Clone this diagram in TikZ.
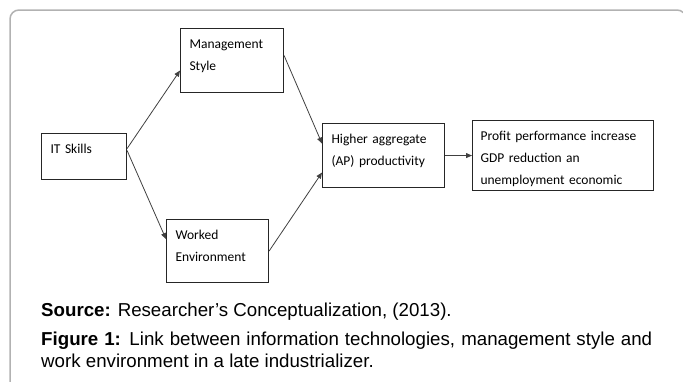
\documentclass[tikz,border=0pt]{standalone}
\usepackage{fontspec}
\setmainfont{Liberation Sans}
\newfontfamily\boxfont{Carlito}
\usepackage{tikz}
\usetikzlibrary{arrows.meta, positioning}

\begin{document}
\begin{tikzpicture}[x=1pt,y=-1pt,>={Triangle[length=6pt,width=5pt]}]
    \tikzstyle{box}=[draw=black!85,line width=1.1pt,anchor=north west,align=left,
        inner xsep=9pt,inner ysep=0pt,text height=19.5pt,
        font=\boxfont\fontsize{13.5}{22}\selectfont]
    \tikzstyle{link}=[every edge/.style={draw,->,black!75,line width=0.8pt}]
    \useasboundingbox (0,0) rectangle (683,381);

    % frame round the figure
    \draw[black!30,line width=1.5pt,rounded corners=9pt] (10,10) rectangle (686,400);

    \node[box,text width=67pt,text depth=26.5pt] (it) at (41,133) {IT Skills};
    \node[box,text width=85pt,text depth=44.5pt] (mgmt) at (180,28) {Management\\Style};
    \node[box,text width=84pt,text depth=43.5pt] (work) at (166,219) {Worked\\Environment};
    \node[box,text width=104pt,text depth=44.5pt] (high) at (322,123) {Higher aggregate\\(AP) productivity};
    \node[box,text depth=50.5pt,inner xsep=8pt,text width=165pt] (prof) at (472,120)
        {Profit performance increase\\GDP reduction an\\unemployment economic};

    \path[link]
    ([yshift=8pt]it.east) edge ([yshift=-10pt]mgmt.west)
    ([yshift=6pt]it.east) edge ([yshift=12pt]work.west)
    ([yshift=5pt]mgmt.east) edge ([yshift=12pt]high.west)
    (work.east) edge ([yshift=-17pt]high.west)
    (high.east) edge (prof.west)
    ;

    \node[anchor=base west,inner sep=0pt,font=\fontsize{18.7}{22}\selectfont] (src) at (41,316)
        {\textbf{Source:} Researcher's Conceptualization, (2013).};
    \node[anchor=base west,inner sep=0pt,text width=611pt,align=justify,
        font=\fontsize{18.7}{22}\selectfont] (cap) at (41,345)
        {\textbf{Figure 1:} Link between information technologies, management style and\linebreak
        work environment in a late industrializer.};
\end{tikzpicture}
\end{document}
